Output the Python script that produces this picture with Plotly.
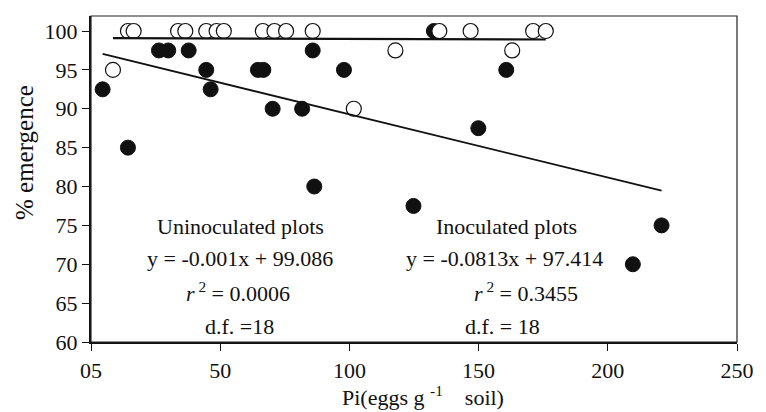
import plotly.graph_objects as go

# Inoculated plots (filled circles)
inoc_x = [4.5, 14.3, 26.3, 29.9, 37.8, 44.6, 46.3, 64.6, 66.7, 70.3,
          81.7, 85.8, 86.4, 97.9, 124.8, 132.7, 149.9, 160.7, 209.7, 220.8]
inoc_y = [92.5, 85, 97.5, 97.5, 97.5, 95, 92.5, 95, 95, 90,
          90, 97.5, 80, 95, 77.5, 100, 87.5, 95, 70, 75]

# Uninoculated plots (open circles)
uninoc_x = [8.5, 14.3, 16.5, 33.7, 36.5, 44.6, 48.6, 51.4, 66.5, 71.0,
            75.5, 85.8, 101.7, 117.8, 134.8, 146.9, 163.0, 171.1, 176.0]
uninoc_y = [95, 100, 100, 100, 100, 100, 100, 100, 100, 100,
            100, 100, 90, 97.5, 100, 100, 97.5, 100, 100]

# Regression coefficients
uninoc_fit = (-0.001, 99.086)
inoc_fit = (-0.0813, 97.414)

x_ticks = [0, 50, 100, 150, 200, 250]
x_ticktext = ["05", "50", "100", "150", "200", "250"]
y_ticks = [60, 65, 70, 75, 80, 85, 90, 95, 100]

FONT = "Liberation Serif"

fig = go.Figure()

fig.add_trace(go.Scatter(
    x=inoc_x, y=inoc_y, mode="markers",
    marker=dict(size=15, color="#111111", line=dict(color="#111111", width=1)),
    showlegend=False))

fig.add_trace(go.Scatter(
    x=uninoc_x, y=uninoc_y, mode="markers",
    marker=dict(size=15, color="white", line=dict(color="#111111", width=1.2)),
    showlegend=False))

ux = [min(uninoc_x), max(uninoc_x)]
fig.add_trace(go.Scatter(
    x=ux, y=[uninoc_fit[0] * v + uninoc_fit[1] for v in ux], mode="lines",
    line=dict(color="#111111", width=2.2), showlegend=False))

ix = [min(inoc_x), max(inoc_x)]
fig.add_trace(go.Scatter(
    x=ix, y=[inoc_fit[0] * v + inoc_fit[1] for v in ix], mode="lines",
    line=dict(color="#111111", width=1.8), showlegend=False))

texts = [
    ("Uninoculated plots", 58.0, 74.92),
    ("y = -0.001x + 99.086", 57.6, 70.8),
    ("<i>r</i><sup> 2</sup> = 0.0006", 56.9, 66.4),
    ("d.f. =18", 57.6, 61.93),
    ("Inoculated plots", 160.7, 74.92),
    ("y = -0.0813x + 97.414", 159.9, 70.8),
    ("<i>r</i><sup> 2</sup> = 0.3455", 168.3, 66.4),
    ("d.f. = 18", 159.2, 61.93),
]
for t, xx, yy in texts:
    fig.add_annotation(x=xx, y=yy, xref="x", yref="y", text=t, showarrow=False,
                       xanchor="center", yanchor="middle",
                       font=dict(family=FONT, size=22, color="#111111"))

# axis titles
fig.add_annotation(x=-0.102, y=0.58, xref="paper", yref="paper",
                   text="% emergence", textangle=-90, showarrow=False,
                   xanchor="center", yanchor="middle",
                   font=dict(family=FONT, size=25, color="#111111"))
fig.add_annotation(x=0.514, y=-0.166, xref="paper", yref="paper",
                   text="Pi(eggs g <sup>-1</sup>\u00a0\u00a0\u00a0 soil)", showarrow=False,
                   xanchor="center", yanchor="middle",
                   font=dict(family=FONT, size=22, color="#111111"))

# thin frame (top/right)
fig.add_shape(type="rect", xref="paper", yref="paper", x0=0, y0=0, x1=1, y1=1,
              line=dict(color="#222222", width=1.2), layer="above")

fig.update_xaxes(range=[0, 250], tickvals=x_ticks, ticktext=x_ticktext,
                 showgrid=False, zeroline=False, showline=True, linecolor="#111111",
                 linewidth=2.2, ticks="outside", ticklen=7, tickcolor="#111111",
                 tickwidth=1.2, tickfont=dict(family=FONT, size=22, color="#111111"))
fig.update_yaxes(range=[60, 101.93], tickvals=y_ticks,
                 showgrid=False, zeroline=False, showline=True, linecolor="#111111",
                 linewidth=2.2, ticks="outside", ticklen=7, tickcolor="#111111",
                 tickwidth=1.2, tickfont=dict(family=FONT, size=22, color="#111111"))

fig.update_layout(width=766, height=412,
                  margin=dict(l=91, r=20, t=16, b=70),
                  paper_bgcolor="white", plot_bgcolor="white",
                  font=dict(family=FONT),
                  showlegend=False)

fig.write_html("out.html")
